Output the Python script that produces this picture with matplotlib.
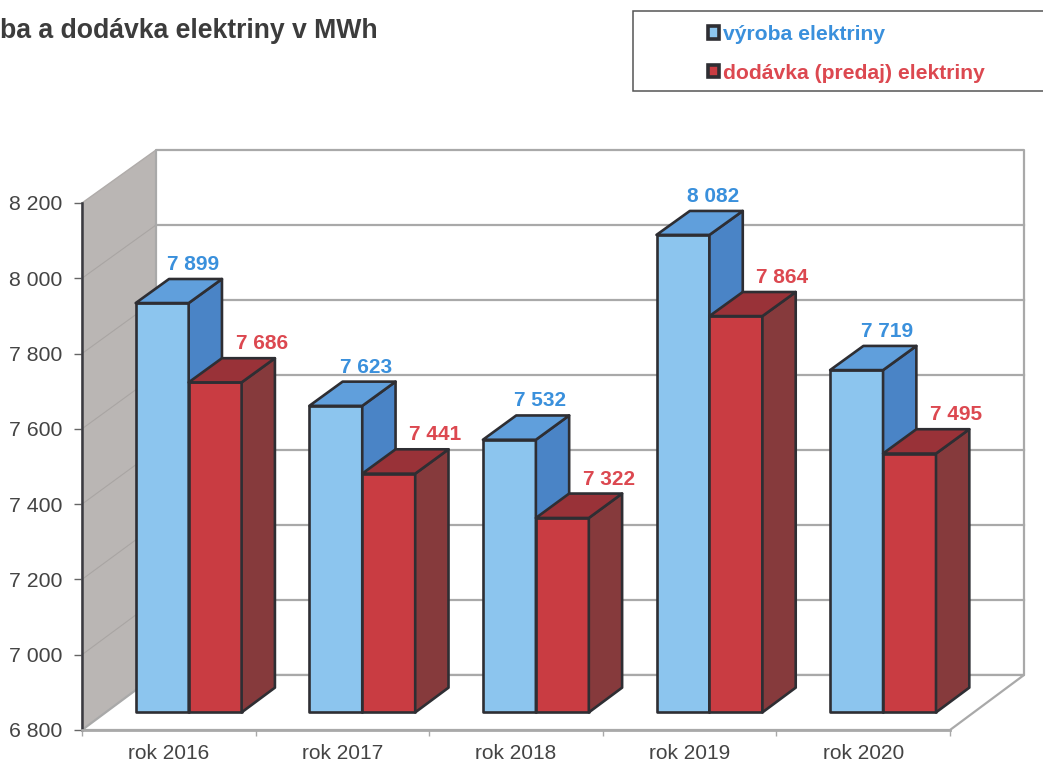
import matplotlib
matplotlib.use("Agg")
import matplotlib.pyplot as plt
from matplotlib.patches import Polygon, Patch, Rectangle

categories = ["rok 2016", "rok 2017", "rok 2018", "rok 2019", "rok 2020"]
vyroba = [7899, 7623, 7532, 8082, 7719]
dodavka = [7686, 7441, 7322, 7864, 7495]
y_ticks = [6800, 7000, 7200, 7400, 7600, 7800, 8000, 8200]
title = "ba a dodávka elektriny v MWh"
series_names = ["výroba elektriny", "dodávka (predaj) elektriny"]

W, H = 1043, 765
plt.rcParams["font.family"] = ["Liberation Sans", "DejaVu Sans"]
fig = plt.figure(figsize=(W / 100, H / 100), dpi=100, facecolor="white")

L, R, B, T = 82, 950, 730, 203
ax = fig.add_axes([L / W, 1 - B / H, (R - L) / W, (B - T) / H])
ax.set_xlim(0, 5)
ax.set_ylim(6800, 8200)
ax.patch.set_visible(False)

PX = (R - L) / 5
PY = (B - T) / 1400
DEPTH_X, DEPTH_Y = 74, 55
BAR_SCALE = 0.9907
BACK_SHRINK = 0.0038


def pr(x, y, d=0.0):
    return (x + d * DEPTH_X / PX,
            6800 + (y - 6800) * (1 - BACK_SHRINK * d) + d * DEPTH_Y / PY)


def poly(pts, fc, ec, lw=1.0, z=1):
    ax.add_patch(Polygon(pts, closed=True, facecolor=fc, edgecolor=ec, linewidth=lw,
                         joinstyle="round", clip_on=False, zorder=z))


WALL = "#a9a9a9"
# side wall, back wall, floor
poly([pr(0, 6800), pr(0, 8200), pr(0, 8200, 1), pr(0, 6800, 1)], "#bab6b4", "#b0acaa", 1.0, 1)
poly([pr(0, 6800, 1), pr(0, 8200, 1), pr(5, 8200, 1), pr(5, 6800, 1)], "white", WALL, 1.6, 1)
poly([pr(0, 6800), pr(5, 6800), pr(5, 6800, 1), pr(0, 6800, 1)], "white", WALL, 1.6, 1)
for v in y_ticks[1:-1]:
    xs, ys = zip(pr(0, v), pr(0, v, 1))
    ax.plot(xs, ys, color="#a9a5a3", lw=0.8, clip_on=False, zorder=2)
    xs, ys = zip(pr(0, v, 1), pr(5, v, 1))
    ax.plot(xs, ys, color=WALL, lw=1.6, clip_on=False, zorder=2)

BAR_W = 0.305
START = 0.173
D0, D1 = 0.32, 0.77
EDGE = "#2e2e33"


def bar(x0, value, front, side, top):
    y0 = 6800
    y1 = 6800 + (value - 6800) * BAR_SCALE
    x1 = x0 + BAR_W
    poly([pr(x0, y0, D0), pr(x1, y0, D0), pr(x1, y1, D0), pr(x0, y1, D0)], front, EDGE, 1.9, 4)
    poly([pr(x1, y0, D0), pr(x1, y0, D1), pr(x1, y1, D1), pr(x1, y1, D0)], side, EDGE, 1.9, 4)
    poly([pr(x0, y1, D0), pr(x1, y1, D0), pr(x1, y1, D1), pr(x0, y1, D1)], top, EDGE, 1.9, 4)
    return y1


BLUE_TXT, RED_TXT = "#3a90dc", "#dc4850"
LABEL_UP = 0.72 * (0.45 * DEPTH_Y + 14)


def label(value, x0, y1, dx_px, color):
    ax.annotate(f"{value:,}".replace(",", " "), pr(x0, y1, D0), xycoords="data",
                xytext=(dx_px * 0.72, LABEL_UP), textcoords="offset points",
                ha="center", va="center", color=color, fontsize=15, fontweight="bold",
                zorder=6, annotation_clip=False)


for i in range(len(categories)):
    xb = i + START
    xr = xb + BAR_W
    yb = bar(xb, vyroba[i], "#8cc5ee", "#4a84c6", "#609fdc")
    yr = bar(xr, dodavka[i], "#c93c42", "#863a3c", "#993238")
    label(vyroba[i], xb, yb, 57, BLUE_TXT)
    label(dodavka[i], xr, yr, 73, RED_TXT)

# axes
for s in ("top", "right"):
    ax.spines[s].set_visible(False)
ax.spines["left"].set_color("#3a3a40")
ax.spines["left"].set_linewidth(1.8)
ax.spines["bottom"].set_color("#a9a9a9")
ax.spines["bottom"].set_linewidth(2.0)
ax.spines["left"].set_zorder(5)
ax.spines["bottom"].set_zorder(5)
ax.set_yticks(y_ticks)
ax.set_yticklabels([f"{v:,}".replace(",", " ") for v in y_ticks], fontsize=15.3, color="#444444")
ax.tick_params(axis="y", length=6, width=1.0, color="#666666", pad=8)
ax.set_xticks(range(6))
ax.set_xticklabels([""] * 6)
ax.tick_params(axis="x", which="major", length=4, width=1.0, color="#a9a9a9")
ax.set_xticks([i + 0.5 for i in range(5)], minor=True)
ax.set_xticklabels(categories, minor=True, fontsize=15, color="#444444")
ax.tick_params(axis="x", which="minor", length=0, pad=10)
for t in ax.get_xticklabels(minor=True):
    t.set_x(t.get_position()[0])

# title and legend
fig.text(0 / W, 1 - 31 / H, title, fontsize=19.2, fontweight="bold", color="#3c3c3c",
         ha="left", va="center")
fig.add_artist(Rectangle((633 / W, 1 - 91 / H), 500 / W, 80 / H, transform=fig.transFigure,
                         facecolor="white", edgecolor="#555555", linewidth=1.1))
handles = [Patch(facecolor="#8cc5ee", edgecolor="#2e2e33", linewidth=2.6),
           Patch(facecolor="#c93c42", edgecolor="#2e2e33", linewidth=2.6)]
leg = fig.legend(handles, series_names, loc="upper left", bbox_to_anchor=(708 / W, 1 - 25 / H),
                 bbox_transform=fig.transFigure, frameon=False, fontsize=15.2,
                 handlelength=0.5, handleheight=0.5, handletextpad=0.2, labelspacing=0.93,
                 borderpad=0, borderaxespad=0)
for t, c in zip(leg.get_texts(), (BLUE_TXT, RED_TXT)):
    t.set_color(c)
    t.set_fontweight("bold")

fig.savefig("out.png", dpi=100, facecolor="white")
